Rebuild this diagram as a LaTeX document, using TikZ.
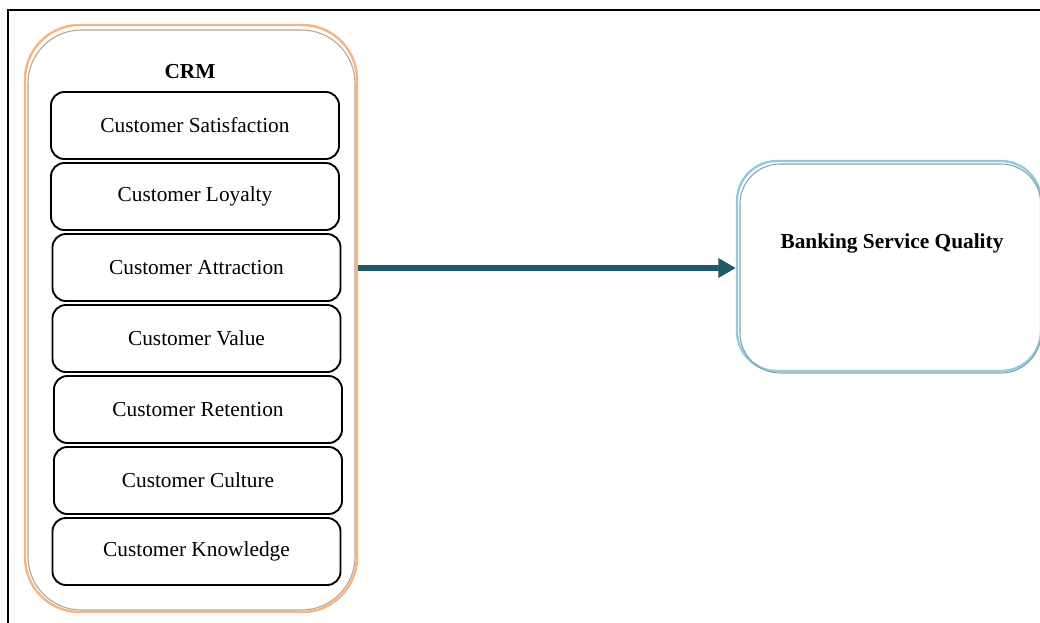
\documentclass[tikz,border=0pt]{standalone}
\usepackage{fontspec}
\setmainfont{Liberation Serif}
\usetikzlibrary{arrows.meta}
\definecolor{crmorange}{RGB}{245,180,132}
\definecolor{crmgrey}{RGB}{185,160,140}
\definecolor{bsqblue}{RGB}{146,203,220}
\definecolor{bsqgrey}{RGB}{140,160,170}
\definecolor{arrowteal}{RGB}{33,89,104}
\tikzset{
  item/.style={draw=black, line width=1.4pt, rounded corners=10pt,
    minimum width=216pt, minimum height=50.25pt, inner sep=0pt,
    font=\fontsize{16pt}{19pt}\selectfont},
  title/.style={font=\fontsize{16pt}{19pt}\selectfont\bfseries, inner sep=0pt},
  link/.style={draw=arrowteal, line width=4pt,
    -{Triangle[length=13pt,width=14pt]}}
}
\begin{document}
\begin{tikzpicture}[x=0.75pt,y=-0.75pt]
\useasboundingbox (0,0) rectangle (1040,622);
\clip (0,0) rectangle (1040,622);
% outer frame
\draw[line width=1.6pt] (8,640) -- (8,10) -- (1060,10);
% CRM container
\node[draw=crmorange, line width=1.8pt, rounded corners=41pt,
  minimum width=249pt, minimum height=440.25pt, inner sep=0pt] (crm) at (191,318.5) {};
\draw[crmgrey, line width=0.8pt, rounded corners=40pt] (28,30) rectangle (355,610);
\node[title] (crmt) at (190,72) {CRM};
\node[item] (s1) at (195,125.5) {Customer Satisfaction};
\node[item] (s2) at (195,196.5) {Customer Loyalty};
\node[item] (s3) at (196.5,267.5) {Customer Attraction};
\node[item] (s4) at (196.5,338.5) {Customer Value};
\node[item] (s5) at (198,409.5) {Customer Retention};
\node[item] (s6) at (198,480.5) {Customer Culture};
\node[item] (s7) at (196.5,551.5) {Customer Knowledge};
% Banking Service Quality
\node[draw=bsqblue, line width=1.8pt, rounded corners=30pt,
  minimum width=228pt, minimum height=157.5pt, inner sep=0pt] (bsq) at (889,266) {};
\draw[bsqgrey, line width=0.8pt, rounded corners=30pt] (740,164) rectangle (1041,373);
\node[title] (bsqt) at (892,243) {Banking Service Quality};
% arrow
\draw[link] (crm.east |- 0,268) -- (bsq.west |- 0,268);
\end{tikzpicture}
\end{document}
